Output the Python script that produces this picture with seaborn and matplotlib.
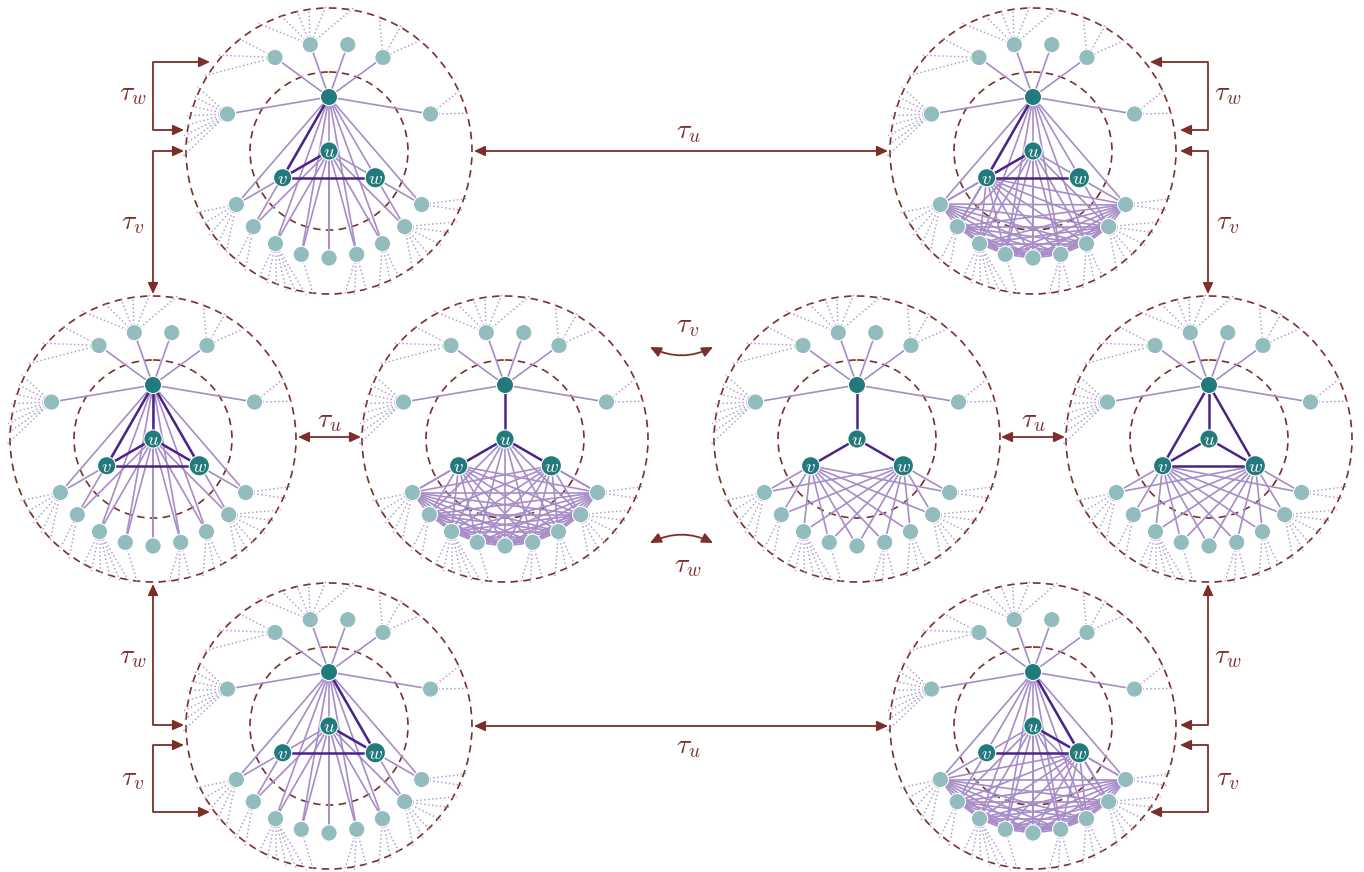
import numpy as np
import matplotlib
matplotlib.use("Agg")
import matplotlib.pyplot as plt
import seaborn as sns
import pandas as pd
from itertools import combinations
from matplotlib.patches import Circle, FancyArrowPatch
from matplotlib.path import Path
from matplotlib.collections import LineCollection

sns.set_theme(style="white")
plt.rcParams['mathtext.fontset'] = 'cm'

# ---------------- data ----------------
# angles (deg) of the light nodes attached to the hub (upper) and to the core (lower)
upper_angles = [20, 60, 80, 100, 120, 160]
lower_angles = [210, 225, 240, 255, 270, 285, 300, 315, 330]
# angles of the dotted leaves of each light node
upper_leaf_angles = [[15, 25], [50, 60, 70], [], [80, 91, 98, 103, 110, 119],
                     [129, 139, 149], [154, 158, 162, 166, 170, 174, 178, 182]]
lower_leaf_angles = [[205, 210, 215, 220, 225], [230, 235], [241, 245, 249, 253, 257, 261],
                     [264], [], [276, 280, 285], [290, 295, 299],
                     [305, 310, 314, 320, 326, 331], [336, 341]]
core_names = ["h", "u", "v", "w"]
core_angles = [90, 0, 210, 330]

panel_names = ["TL", "TR", "L", "ML", "MR", "R", "BL", "BR"]
dark_edges = {
    "TL": ["hv", "uv", "vw"], "TR": ["hv", "uv", "vw"],
    "L": ["hu", "hv", "hw", "uv", "uw", "vw"], "ML": ["hu", "uv", "uw"],
    "MR": ["hu", "uv", "uw"], "R": ["hu", "hv", "hw", "uv", "uw", "vw"],
    "BL": ["hw", "uw", "vw"], "BR": ["hw", "uw", "vw"]}
light_links = {
    "TL": ["hL", "uL"], "TR": ["hL", "uL", "vL", "LL"],
    "L": ["hL", "uL"], "ML": ["uL", "vL", "wL", "LL"],
    "MR": ["vL", "wL"], "R": ["vL", "wL"],
    "BL": ["hL", "uL"], "BR": ["hL", "uL", "wL", "LL"]}

arrow_labels = [r"$\tau_w$", r"$\tau_v$", r"$\tau_u$", r"$\tau_w$", r"$\tau_v$",
                r"$\tau_u$", r"$\tau_u$", r"$\tau_w$", r"$\tau_v$", r"$\tau_u$",
                r"$\tau_w$", r"$\tau_v$", r"$\tau_v$", r"$\tau_w$"]

# ---------------- layout ----------------
panel_cx = [329, 1033, 153, 505, 857, 1209, 329, 1033]
panel_cy = [151, 151, 439, 439, 439, 439, 726, 726]
R_OUT, R_IN = 143, 79
R_UP, R_LOW, R_LEAF = 108, 107, 146
core_radii = [54, 0, 53.5, 53.5]

arrow_paths = [
    [(210, 62), (153, 62), (153, 130), (184, 130)],
    [(184, 151), (153, 151), (153, 294)],
    [(474, 151), (888, 151)],
    [(1150, 62), (1208, 62), (1208, 130), (1180, 130)],
    [(1180, 151), (1208, 151), (1208, 294)],
    [(298, 437), (361, 437)],
    [(1001, 437), (1065, 437)],
    [(153, 584), (153, 725), (184, 725)],
    [(184, 745), (153, 745), (153, 812), (210, 812)],
    [(474, 726), (888, 726)],
    [(1208, 584), (1208, 725), (1180, 725)],
    [(1180, 745), (1208, 745), (1208, 812), (1150, 812)],
]
curved_arrows = [((650, 347), (713, 347), 0.25), ((650, 543), (713, 543), -0.25)]
label_pos = [(133, 93), (133, 222), (688, 131), (1228, 93), (1228, 222),
             (329, 420), (1033, 420), (133, 656), (133, 778), (688, 746),
             (1228, 656), (1228, 778), (688, 325), (688, 565)]

C_RED = "#7c2e2a"
C_LIGHT_EDGE = "#a78dc7"
C_DOT = "#ad98d0"
C_DARK_EDGE = "#4a2586"
C_HUB = "#217a7b"
C_LEAFNODE = "#93bcbf"


def pos(cx, cy, ang, r):
    a = np.deg2rad(ang)
    return (cx + r * np.cos(a), cy - r * np.sin(a))


fig = plt.figure(figsize=(13.64, 8.72), dpi=100)
ax = fig.add_axes([0, 0, 1, 1])

rows = []
for name, cx, cy in zip(panel_names, panel_cx, panel_cy):
    core = {n: pos(cx, cy, a, r) for n, a, r in zip(core_names, core_angles, core_radii)}
    up = [pos(cx, cy, a, R_UP) for a in upper_angles]
    low = [pos(cx, cy, a, R_LOW) for a in lower_angles]

    for r in (R_OUT, R_IN):
        ax.add_patch(Circle((cx, cy), r, fill=False, ec=C_RED, lw=1.2,
                            ls=(0, (4.5, 3.2)), zorder=1))

    dotted = []
    for p, leaves in zip(up, upper_leaf_angles):
        dotted += [(p, pos(cx, cy, a, R_LEAF)) for a in leaves]
    for p, leaves in zip(low, lower_leaf_angles):
        dotted += [(p, pos(cx, cy, a, R_LEAF)) for a in leaves]
    ax.add_collection(LineCollection(dotted, colors=C_DOT, lw=1.05,
                                     linestyles=[(0, (1, 1.7))], zorder=2))

    light = [(core["h"], p) for p in up]
    for link in light_links[name]:
        if link == "LL":
            light += list(combinations(low, 2))
        else:
            light += [(core[link[0]], p) for p in low]
    ax.add_collection(LineCollection(light, colors=C_LIGHT_EDGE, lw=1.2, zorder=3))

    dark = [(core[e[0]], core[e[1]]) for e in dark_edges[name]]
    ax.add_collection(LineCollection(dark, colors=C_DARK_EDGE, lw=1.8, zorder=4))

    for p in up + low:
        rows.append((p[0], p[1], "leaf"))
    rows.append((*core["h"], "hub"))
    rows.append((*core["u"], "u"))
    rows.append((*core["v"], "v"))
    rows.append((*core["w"], "w"))
    for n in ["u", "v", "w"]:
        ax.text(core[n][0], core[n][1] + 0.5, "$%s$" % n, color="white", fontsize=13.5,
                ha="center", va="center", zorder=7)

nodes = pd.DataFrame(rows, columns=["x", "y", "kind"])
sns.scatterplot(data=nodes, x="x", y="y", hue="kind", size="kind",
                palette={"leaf": C_LEAFNODE, "hub": C_HUB, "u": C_HUB, "v": C_HUB, "w": C_HUB},
                sizes={"leaf": 138, "hub": 152, "u": 172, "v": 172, "w": 212},
                edgecolor="white", linewidth=0.8, legend=False, ax=ax, zorder=6)

astyle = "<|-|>,head_length=0.65,head_width=0.3"
for verts in arrow_paths:
    codes = [Path.MOVETO] + [Path.LINETO] * (len(verts) - 1)
    ax.add_patch(FancyArrowPatch(path=Path(verts, codes), arrowstyle=astyle,
                                 mutation_scale=10, color=C_RED, lw=1.3,
                                 shrinkA=0, shrinkB=0, zorder=8))
for a, b, rad in curved_arrows:
    ax.add_patch(FancyArrowPatch(a, b, arrowstyle=astyle, connectionstyle="arc3,rad=%s" % rad,
                                 mutation_scale=10, color=C_RED, lw=1.3,
                                 shrinkA=0, shrinkB=0, zorder=8))

for txt, (x, y) in zip(arrow_labels, label_pos):
    ax.text(x, y, txt, color=C_RED, fontsize=20, ha="center", va="center", zorder=9)

ax.set_xlim(0, 1364)
ax.set_ylim(872, 0)
ax.axis("off")
fig.savefig("out.png", dpi=100)
